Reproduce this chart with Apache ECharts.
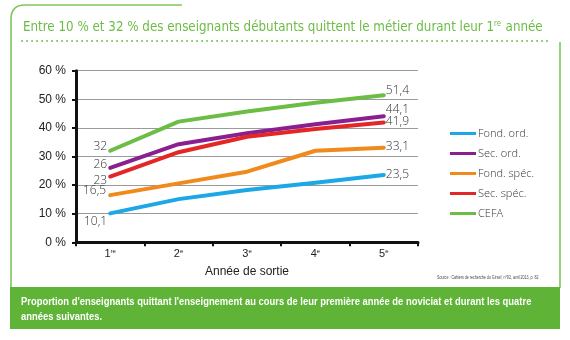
<!DOCTYPE html>
<html><head><meta charset="utf-8">
<script src="https://cdn.jsdelivr.net/npm/echarts@6/dist/echarts.min.js"></script>
<style>html,body{margin:0;padding:0;background:#fff}#c{width:570px;height:340px}</style>
</head><body><div id="c"></div>
<script>
const categories = ['1', '2', '3', '4', '5'];
const catSup = ['re', 'e', 'e', 'e', 'e'];
const fondOrd = [10.1, 15.1, 18.3, 20.8, 23.5];
const secOrd = [26, 34.3, 38.1, 41.3, 44.1];
const fondSpec = [16.5, 20.6, 24.7, 32.0, 33.1];
const secSpec = [23, 31.5, 36.9, 39.6, 41.9];
const cefa = [32, 42.2, 45.7, 48.8, 51.4];
const yTicks = [0, 10, 20, 30, 40, 50, 60];

const seriesDefs = [
  {name: 'Fond. ord.', data: fondOrd, color: '#1ca7e6', first: [2, 8], last: [-3, -1]},
  {name: 'Sec. ord.', data: secOrd, color: '#8a1f8f', first: [2, -3], last: [-3, -7]},
  {name: 'Fond. spéc.', data: fondSpec, color: '#f08a1c', first: [1, -5], last: [-3, -1]},
  {name: 'Sec. spéc.', data: secSpec, color: '#e32726', first: [2, 4], last: [-3, -1]},
  {name: 'CEFA', data: cefa, color: '#6cbd45', first: [2, -4], last: [-3, -5]}
];
const fmt = v => String(v).replace('.', ',');

const chart = echarts.init(document.getElementById('c'), null, {renderer: 'canvas'});
const lblStyle = {color: '#333', fontSize: 12, fontFamily: 'Open Sans', fontWeight: 300};
const frame = {stroke: '#7cc65c', lineWidth: 1.6, fill: null};
chart.setOption({
  animation: false,
  textStyle: {fontFamily: 'Liberation Sans'},
  grid: {left: 76, right: 152, top: 70.7, bottom: 97.7},
  xAxis: {
    type: 'category', data: categories, boundaryGap: true,
    axisLine: {lineStyle: {color: '#111', width: 3}},
    axisTick: {show: true, length: 4, lineStyle: {color: '#111', width: 2}},
    axisLabel: {
      margin: 6,
      formatter: (v, i) => '{a|' + v + '}{s|' + catSup[i] + '}',
      rich: {a: {fontSize: 11, color: '#222', fontFamily: 'Liberation Sans'},
             s: {fontSize: 6, color: '#222', padding: [0, 0, 6, 0], fontFamily: 'Liberation Sans'}}
    },
    name: 'Année de sortie', nameLocation: 'middle', nameGap: 23,
    nameTextStyle: {fontSize: 12, color: '#222', fontFamily: 'Liberation Sans'}
  },
  yAxis: {
    type: 'value', min: 0, max: 60, interval: 10,
    axisLine: {show: true, lineStyle: {color: '#111', width: 3}},
    axisTick: {show: true, length: 4, lineStyle: {color: '#111', width: 2}},
    axisLabel: {formatter: v => v + ' %', fontSize: 12, color: '#222', margin: 10, fontFamily: 'Liberation Sans'},
    splitLine: {lineStyle: {color: '#9a9a9a', width: 1.2}}
  },
  legend: {
    orient: 'vertical', left: 445, top: 123, itemGap: 9,
    itemWidth: 26, itemHeight: 13, icon: 'path://M0,5 L26,5 L26,8 L0,8 Z',
    textStyle: {fontSize: 11, color: '#333', fontFamily: 'Open Sans', fontWeight: 300, padding: [0, 0, 0, -3]},
    data: seriesDefs.map(s => s.name)
  },
  series: seriesDefs.map(s => ({
    name: s.name, type: 'line', color: s.color, symbol: 'circle', symbolSize: 0.1, showSymbol: true, z: 3,
    itemStyle: {color: s.color},
    lineStyle: {width: 4, color: s.color, cap: 'round', join: 'round'},
    data: s.data.map((v, i) => {
      if (i === 0) return {value: v, label: Object.assign({show: true, position: 'left', offset: s.first, formatter: p => fmt(p.value)}, lblStyle)};
      if (i === s.data.length - 1) return {value: v, label: Object.assign({show: true, position: 'right', offset: s.last, formatter: p => fmt(p.value)}, lblStyle)};
      return v;
    })
  })),
  graphic: [
    {type: 'line', shape: {x1: 25, y1: 5, x2: 182, y2: 5}, style: frame},
    {type: 'bezierCurve', shape: {x1: 11, y1: 19, cpx1: 11, cpy1: 5, x2: 25, y2: 5}, style: frame},
    {type: 'line', shape: {x1: 11, y1: 19, x2: 11, y2: 288}, style: frame},
    {type: 'line', shape: {x1: 560, y1: 42, x2: 560, y2: 288}, style: frame},
    {type: 'line', shape: {x1: 22, y1: 41, x2: 551, y2: 41}, style: {stroke: '#7cc65c', lineWidth: 2, lineDash: [0.1, 4.9], lineCap: 'round'}},
    {type: 'text', x: 23, y: 20, scaleX: 0.946, style: {
      text: '{a|Entre 10 % et 32 % des enseignants débutants quittent le métier durant leur 1}{s|re}{a| année}',
      rich: {a: {fontSize: 14, fill: '#6cbd45', fontFamily: 'DejaVu Sans Condensed'},
             s: {fontSize: 8, fill: '#6cbd45', padding: [0, 1, 6, 0], fontFamily: 'DejaVu Sans Condensed'}}
    }},
    {type: 'text', x: 437, y: 275, scaleX: 0.72, style: {text: 'Source : Cahiers de recherche du Girsef, n°92, avril 2013, p. 82', fontSize: 5, fill: '#444', fontFamily: 'Liberation Sans'}},
    {type: 'rect', shape: {x: 10, y: 287, width: 550, height: 42}, style: {fill: '#5fb337'}},
    {type: 'text', x: 21, y: 294, scaleX: 0.855, style: {
      text: "Proportion d'enseignants quittant l'enseignement au cours de leur première année de noviciat et durant les quatre\nannées suivantes.",
      fontSize: 11, fontWeight: 'bold', fill: '#fff', lineHeight: 15, fontFamily: 'Liberation Sans'
    }}
  ]
});
</script></body></html>
